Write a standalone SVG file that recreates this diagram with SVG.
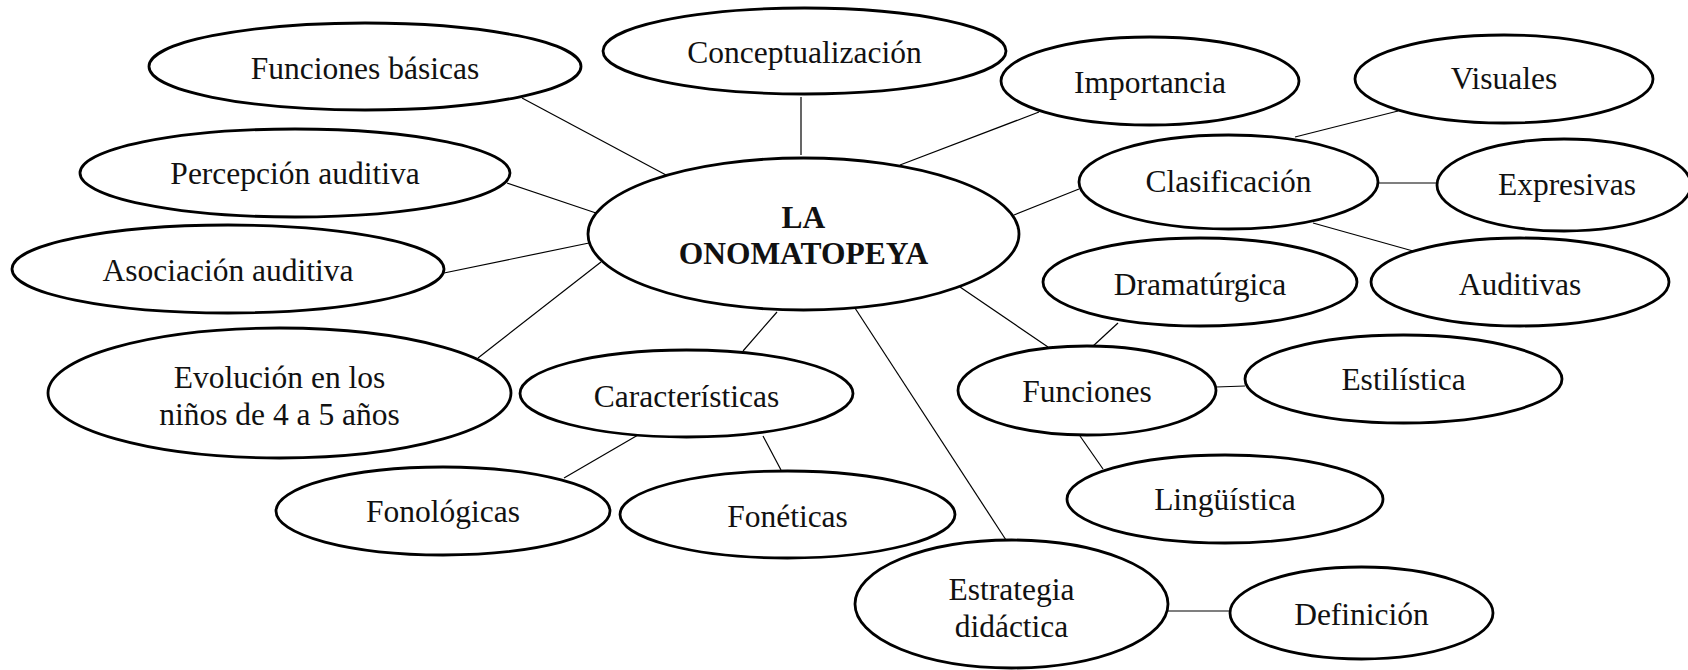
<svg xmlns="http://www.w3.org/2000/svg" width="1688" height="670" viewBox="0 0 1688 670">
<style>
.n ellipse{fill:#fff;stroke:#000;stroke-width:2.8}
.c line{stroke:#000;stroke-width:1.2}
text{font-family:"Liberation Serif","Times New Roman",serif;font-size:31.5px;fill:#111;text-anchor:middle}
.b{font-weight:bold}
</style>
<rect width="1688" height="670" fill="#fff"/>
<g id="connectors" class="c">
<line x1="522" y1="98" x2="666" y2="175"/>
<line x1="507" y1="183" x2="596" y2="213"/>
<line x1="444" y1="273" x2="589" y2="243"/>
<line x1="478" y1="358" x2="601" y2="262"/>
<line x1="801" y1="97" x2="801" y2="155"/>
<line x1="1039" y1="112" x2="900" y2="165"/>
<line x1="1079" y1="189" x2="1014" y2="215"/>
<line x1="777" y1="312" x2="743" y2="351"/>
<line x1="853" y1="305" x2="1006" y2="540"/>
<line x1="960" y1="287" x2="1048" y2="347"/>
<line x1="1118" y1="323" x2="1092" y2="347"/>
<line x1="1295" y1="137" x2="1398" y2="111"/>
<line x1="1378" y1="183" x2="1437" y2="183"/>
<line x1="1313" y1="223" x2="1413" y2="251"/>
<line x1="638" y1="435" x2="564" y2="478"/>
<line x1="763" y1="436" x2="781" y2="470"/>
<line x1="1216" y1="387" x2="1245" y2="386"/>
<line x1="1080" y1="436" x2="1103" y2="469"/>
<line x1="1168" y1="611" x2="1230" y2="611"/>
</g>
<g id="n-center" class="n"><ellipse cx="803.5" cy="234" rx="215.5" ry="76"/><text class="b" x="803.5" y="228">LA</text><text class="b" x="803.5" y="264">ONOMATOPEYA</text></g>
<g id="n-funciones-basicas" class="n"><ellipse cx="365" cy="66.5" rx="216" ry="43.5"/><text x="365" y="79">Funciones básicas</text></g>
<g id="n-percepcion" class="n"><ellipse cx="295" cy="173" rx="215" ry="44"/><text x="295" y="184">Percepción auditiva</text></g>
<g id="n-asociacion" class="n"><ellipse cx="228" cy="269" rx="216" ry="44"/><text x="228" y="281">Asociación auditiva</text></g>
<g id="n-evolucion" class="n"><ellipse cx="279.5" cy="393" rx="231.5" ry="65"/><text x="279.5" y="388">Evolución en los</text><text x="279.5" y="425">niños de 4 a 5 años</text></g>
<g id="n-conceptualizacion" class="n"><ellipse cx="804.5" cy="51" rx="201.5" ry="43"/><text x="804.5" y="63">Conceptualización</text></g>
<g id="n-importancia" class="n"><ellipse cx="1150" cy="81" rx="149" ry="44"/><text x="1150" y="93">Importancia</text></g>
<g id="n-visuales" class="n"><ellipse cx="1504" cy="79" rx="149" ry="44"/><text x="1504" y="89">Visuales</text></g>
<g id="n-clasificacion" class="n"><ellipse cx="1228.5" cy="182" rx="149.5" ry="47"/><text x="1228.5" y="192">Clasificación</text></g>
<g id="n-expresivas" class="n"><ellipse cx="1564" cy="185" rx="127" ry="46"/><text x="1567" y="195">Expresivas</text></g>
<g id="n-dramaturgica" class="n"><ellipse cx="1200" cy="282" rx="157" ry="44"/><text x="1200" y="295">Dramatúrgica</text></g>
<g id="n-auditivas" class="n"><ellipse cx="1520" cy="282" rx="149" ry="44"/><text x="1520" y="295">Auditivas</text></g>
<g id="n-caracteristicas" class="n"><ellipse cx="686.5" cy="393.5" rx="166.5" ry="43.5"/><text x="686.5" y="407">Características</text></g>
<g id="n-fonologicas" class="n"><ellipse cx="443" cy="511" rx="167" ry="44"/><text x="443" y="522">Fonológicas</text></g>
<g id="n-foneticas" class="n"><ellipse cx="787.5" cy="514.5" rx="167.5" ry="43.5"/><text x="787.5" y="527">Fonéticas</text></g>
<g id="n-funciones" class="n"><ellipse cx="1087" cy="390.5" rx="129" ry="44.5"/><text x="1087" y="402">Funciones</text></g>
<g id="n-estilistica" class="n"><ellipse cx="1403.5" cy="379" rx="158.5" ry="44"/><text x="1403.5" y="390">Estilística</text></g>
<g id="n-linguistica" class="n"><ellipse cx="1225" cy="499" rx="158" ry="44"/><text x="1225" y="510">Lingüística</text></g>
<g id="n-estrategia" class="n"><ellipse cx="1011.5" cy="604" rx="156.5" ry="64"/><text x="1011.5" y="600">Estrategia</text><text x="1011.5" y="637">didáctica</text></g>
<g id="n-definicion" class="n"><ellipse cx="1361.5" cy="613" rx="131.5" ry="46"/><text x="1361.5" y="625">Definición</text></g>
</svg>
